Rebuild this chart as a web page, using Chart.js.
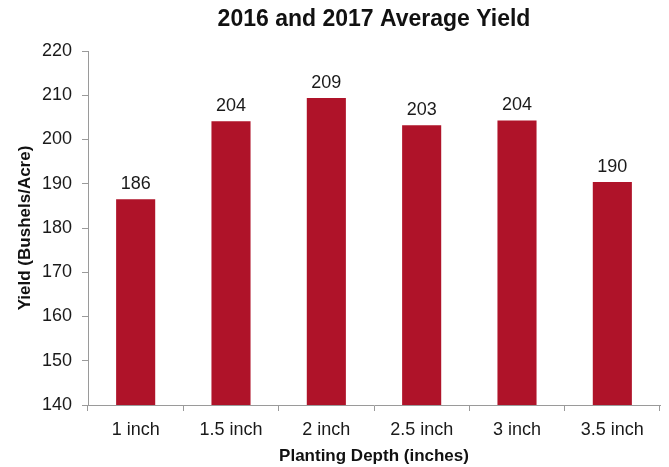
<!DOCTYPE html>
<html>
<head>
<meta charset="utf-8">
<script src="https://cdn.jsdelivr.net/npm/chart.js@4"></script>
<style>
  body { margin: 0; background: #fff; }
</style>
</head>
<body>
<canvas id="yieldChart" width="669" height="467"></canvas>
<script>
const depths = ['1 inch', '1.5 inch', '2 inch', '2.5 inch', '3 inch', '3.5 inch'];
const avgYield = [186.5, 204.1, 209.4, 203.2, 204.3, 190.4];
const yTicks = [140, 150, 160, 170, 180, 190, 200, 210, 220];

const chartTitle = '2016 and 2017 Average Yield';
const axisGray = '#9a9a9a';

// title centred over the plot area, like the original
const titlePlugin = {
    id: 'plotTitle',
    afterDraw(chart) {
        const { ctx, chartArea } = chart;
        ctx.save();
        ctx.font = 'bold 23px "Liberation Sans", Arial, sans-serif';
        ctx.fillStyle = '#111';
        ctx.textAlign = 'center';
        ctx.textBaseline = 'alphabetic';
        ctx.fillText(chartTitle, (chartArea.left + chartArea.right) / 2, 26);
        ctx.restore();
    }
};

// rounded value above each bar
const valueLabels = {
    id: 'valueLabels',
    afterDatasetsDraw(chart) {
        const { ctx } = chart;
        const meta = chart.getDatasetMeta(0);
        ctx.save();
        ctx.font = '18px "Liberation Sans", Arial, sans-serif';
        ctx.fillStyle = '#1a1a1a';
        ctx.textAlign = 'center';
        ctx.textBaseline = 'alphabetic';
        meta.data.forEach((bar, i) => {
            ctx.fillText(Math.floor(avgYield[i]), bar.x, bar.y - 10);
        });
        ctx.restore();
    }
};

new Chart(document.getElementById('yieldChart'), {
    type: 'bar',
    data: {
        labels: depths,
        datasets: [{
            data: avgYield,
            backgroundColor: '#AF1329',
            categoryPercentage: 1,
            barPercentage: 0.41
        }]
    },
    options: {
        responsive: false,
        animation: false,
        layout: { padding: { top: 51, right: 9, left: 0, bottom: 0 } },
        plugins: {
            legend: { display: false },
            tooltip: { enabled: false },
            title: { display: false }
        },
        scales: {
            x: {
                grid: {
                    offset: true,
                    drawOnChartArea: false,
                    tickLength: 6,
                    color: axisGray
                },
                border: { color: axisGray },
                ticks: {
                    color: '#1a1a1a',
                    font: { family: '"Liberation Sans", Arial, sans-serif', size: 18 },
                    padding: 8
                },
                title: {
                    display: true,
                    text: 'Planting Depth (inches)',
                    color: '#111',
                    font: { family: '"Liberation Sans", Arial, sans-serif', size: 17, weight: 'bold' },
                    padding: { top: 0, bottom: 0 }
                },
                afterFit(scale) { scale.height = 62; }
            },
            y: {
                min: 140,
                max: 220,
                afterBuildTicks(scale) { scale.ticks = yTicks.map(v => ({ value: v })); },
                grid: {
                    drawOnChartArea: false,
                    tickLength: 6,
                    color: axisGray
                },
                border: { color: axisGray },
                ticks: {
                    color: '#1a1a1a',
                    font: { family: '"Liberation Sans", Arial, sans-serif', size: 18 },
                    padding: 10
                },
                title: {
                    display: true,
                    text: 'Yield (Bushels/Acre)',
                    color: '#111',
                    font: { family: '"Liberation Sans", Arial, sans-serif', size: 17, weight: 'bold' },
                    padding: { top: 15, bottom: 0 }
                },
                afterFit(scale) { scale.width = 88; }
            }
        }
    },
    plugins: [titlePlugin, valueLabels]
});
</script>
</body>
</html>
